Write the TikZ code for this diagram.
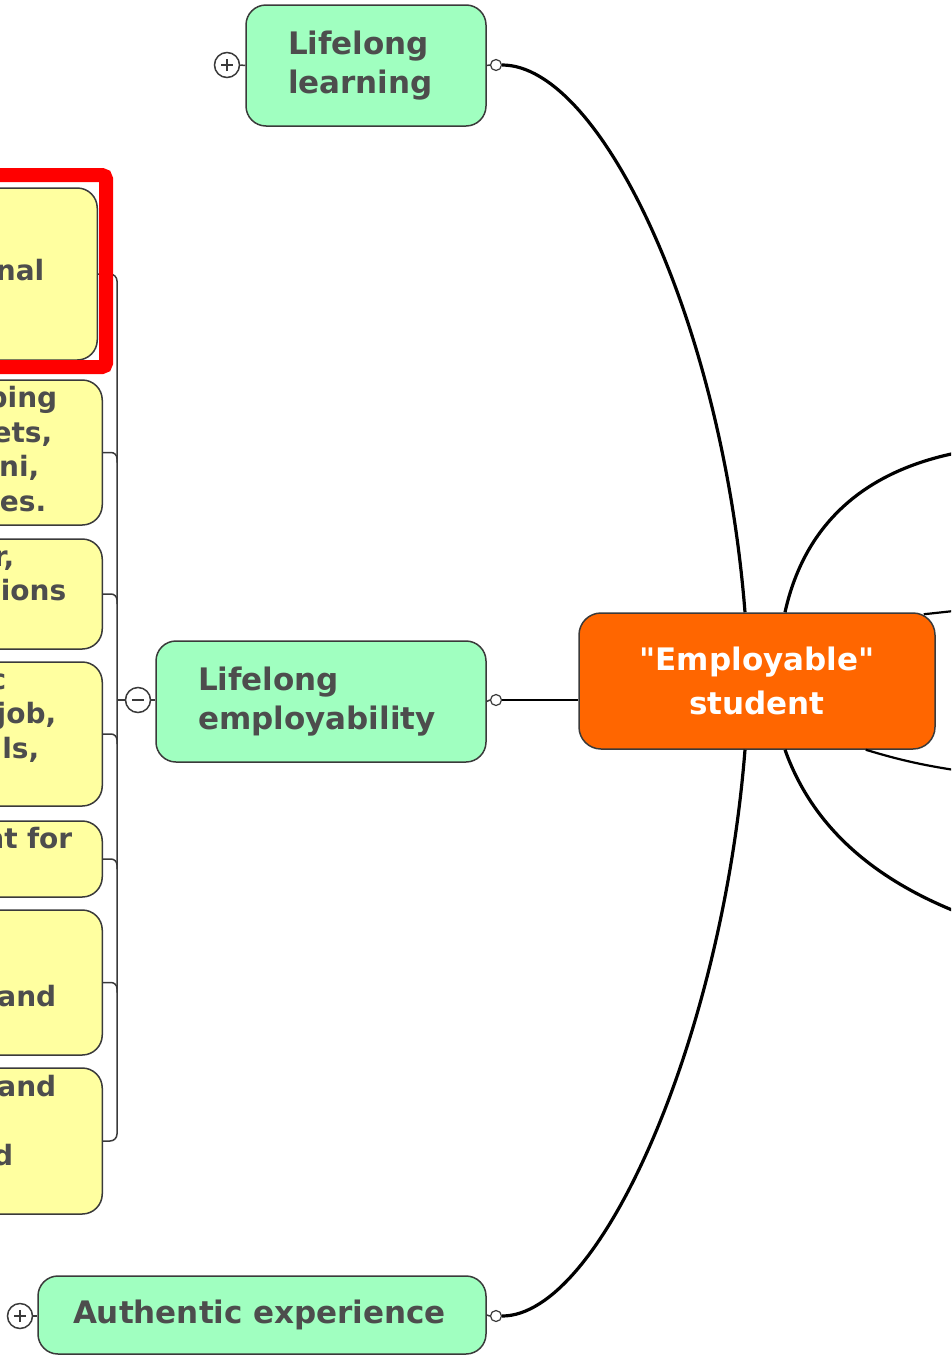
\documentclass[tikz,border=0pt]{standalone}
\usepackage{fontspec}
\newfontfamily\mmfont{DejaVu Sans}
\usetikzlibrary{calc}
\definecolor{mmgreen}{HTML}{A0FFC0}
\definecolor{mmyellow}{HTML}{FFFFA0}
\definecolor{mmorange}{HTML}{FF6600}
\definecolor{mmtext}{HTML}{4D4D4D}
\definecolor{mmborder}{HTML}{3A3A3A}
\newcommand\frag[2]{\makebox[\dimexpr #1pt+147pt\relax][r]{\strut#2}}
\begin{document}
\begin{tikzpicture}[x=1pt,y=-1pt,
  topic/.style={draw=mmborder, line width=1.5pt, rounded corners=20pt, fill=mmgreen, text=mmtext,
    font=\mmfont\fontsize{31}{39}\selectfont\bfseries, align=left, inner xsep=42pt, inner ysep=0pt},
  sub/.style={draw=mmborder, line width=1.5pt, rounded corners=20pt, fill=mmyellow, text=mmtext,
    font=\mmfont\fontsize{28}{34.5}\selectfont\bfseries, align=left, text width=250pt, inner sep=0pt, anchor=east},
  central/.style={draw=mmborder, line width=1.5pt, rounded corners=22pt, fill=mmorange, text=white,
    font=\mmfont\fontsize{31}{44}\selectfont\bfseries, align=center, inner sep=0pt},
  conn/.style={draw=black, line width=3.2pt},
  thinconn/.style={draw=black, line width=2.2pt},
  brk/.style={draw=mmborder, line width=1.5pt},
  dot/.style={circle, draw=mmborder, fill=white, line width=1.2pt, minimum size=11pt, inner sep=0pt},
  toggle/.style={circle, draw=mmborder, fill=white, line width=1.5pt, minimum size=25pt, inner sep=0pt},
  plus/.style={path picture={\draw[line width=1.4pt,mmborder]
     ([xshift=-6pt]path picture bounding box.center) -- ([xshift=6pt]path picture bounding box.center)
     ([yshift=-6pt]path picture bounding box.center) -- ([yshift=6pt]path picture bounding box.center);}},
  minus/.style={path picture={\draw[line width=1.4pt,mmborder]
     ([xshift=-6pt]path picture bounding box.center) -- ([xshift=6pt]path picture bounding box.center);}},
]
\useasboundingbox (0,0) rectangle (951,1355);
\clip (0,0) rectangle (951,1355);

% main topics
\node[topic, text width=156pt, minimum height=121pt] (ll) at (366,65.5) {Lifelong\\learning};
\node[topic, text width=246pt, minimum height=121pt] (le) at (321,701.5) {Lifelong\\employability};
\node[topic, inner xsep=35pt, text width=378pt, minimum height=78pt] (ae) at (262,1315) {Authentic experience};
\node[central, minimum width=356pt, minimum height=136pt] (es) at (757,681) {"Employable"\\student};

% subtopics (cut off at left edge)
\node[sub, minimum height=172pt] (ya) at (98,274) {\frag{50}{onal}};
\node[sub, minimum height=145pt] (yb) at (103,452.5) {\frag{58}{ping}\\\frag{53}{ets,}\\\frag{40}{ni,}\\\frag{47}{ies.}};
\node[sub, minimum height=110pt] (yc) at (103,594) {\frag{15}{r,}\\\frag{67}{tions}\\\strut};
\node[sub, minimum height=144pt] (yd) at (103,734) {\frag{7}{c}\\\frag{57}{job,}\\\frag{40}{als,}\\\strut};
\node[sub, minimum height=76pt] (ye) at (103,859) {\frag{73}{nt for}\\\strut};
\node[sub, minimum height=145pt] (yf) at (103,982.5) {\strut\\\strut\\\frag{57}{and}\\\strut};
\node[sub, minimum height=146pt] (yg) at (103,1141) {\frag{57}{and}\\\strut\\\frag{14}{d}\\\strut};

% dots and toggles
\node[dot] (lld) at (496,65) {};
\node[dot] (led) at (496,700) {};
\node[dot] (aed) at (496,1316) {};
\node[toggle, plus] (llt) at (227,65) {};
\node[toggle, minus] (let) at (138,700) {};
\node[toggle, plus] (aet) at (20,1316) {};

\draw[brk] (ll.east) -- (lld.west);
\draw[brk] (le.east) -- (led.west);
\draw[brk] (ae.east) -- (aed.west);
\draw[brk] (llt.east) -- (ll.west);
\draw[brk] (let.east) -- (let.east -| le.west);
\draw[brk] (aet.east) -- (aet.east -| ae.west);

% bracket
\coordinate (bx) at (117,0);
\draw[brk, rounded corners=7pt] (ya.east) -- (ya.east -| bx) |- (yg.east);
\foreach \n in {yb,yc,yd,ye,yf}
  \draw[brk, rounded corners=6pt] (\n.east) -| ($(\n.east -| bx)+(0,10)$);
\draw[brk] (let.west) -- (let.west -| bx);

% connectors to central topic
\draw[conn] (lld.east) .. controls (600,65) and (722,320) .. ([xshift=-12pt]es.north);
\draw[thinconn] (led.east) -- (led.east -| es.west);
\draw[conn] (aed.east) .. controls (600,1316) and (722,1040) .. ([xshift=-12pt]es.south);

% connectors to off-page topics
\coordinate (r1) at (1010,446);
\coordinate (r2) at (1000,606);
\coordinate (r3) at (1000,776);
\coordinate (r4) at (1010,930);
\draw[conn] ([xshift=28pt]es.north) .. controls (805,522) and (870,455) .. (r1);
\draw[thinconn] ($(es.north east)+(-12,2)$) -- (r2);
\draw[thinconn] ($(es.south east)+(-70,0)$) .. controls (900,760) and (930,768) .. (r3);
\draw[conn] ([xshift=28pt]es.south) .. controls (810,820) and (870,890) .. (r4);

% red highlight
\draw[red, line width=14pt, rounded corners=4pt] (-30,175) rectangle (106,367);
\end{tikzpicture}
\end{document}
